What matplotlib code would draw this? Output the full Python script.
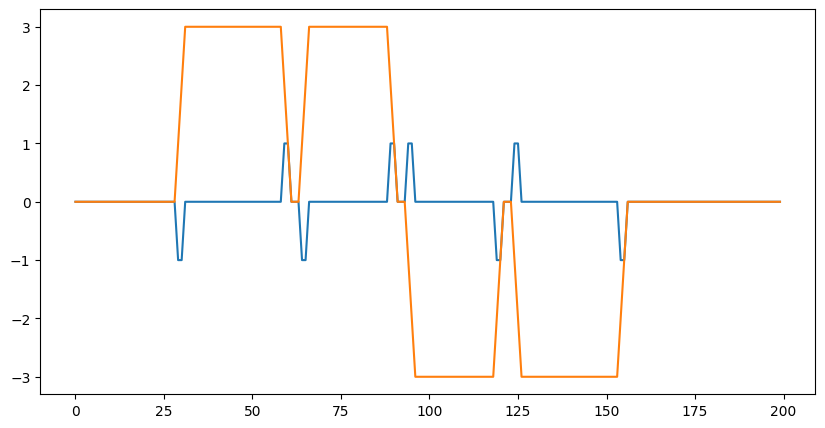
import matplotlib

matplotlib.use("Agg")
import matplotlib.pyplot as plt  # noqa: E402

# blue: short +/-1 pulses, two samples wide
signal = ([0] * 29 + [-1, -1] + [0] * 28 + [1, 1] + [0] * 3 + [-1, -1]
          + [0] * 23 + [1, 1] + [0] * 3 + [1, 1] + [0] * 23 + [-1, -1]
          + [0] * 3 + [1, 1] + [0] * 28 + [-1, -1] + [0] * 44)

# orange: level that ramps between 0, +3 and -3
position = ([0] * 29 + [1, 2] + [3] * 28 + [2, 1] + [0] * 3 + [1, 2]
            + [3] * 23 + [2, 1] + [0] * 3 + [-1, -2] + [-3] * 23 + [-2, -1]
            + [0] * 3 + [-1, -2] + [-3] * 28 + [-2, -1] + [0] * 44)

fig = plt.figure(figsize=(10, 5))
plt.plot(signal)
plt.plot(position)
plt.savefig("out.png", dpi=100, bbox_inches="tight")
plt.close(fig)
print(len(signal), len(position))
